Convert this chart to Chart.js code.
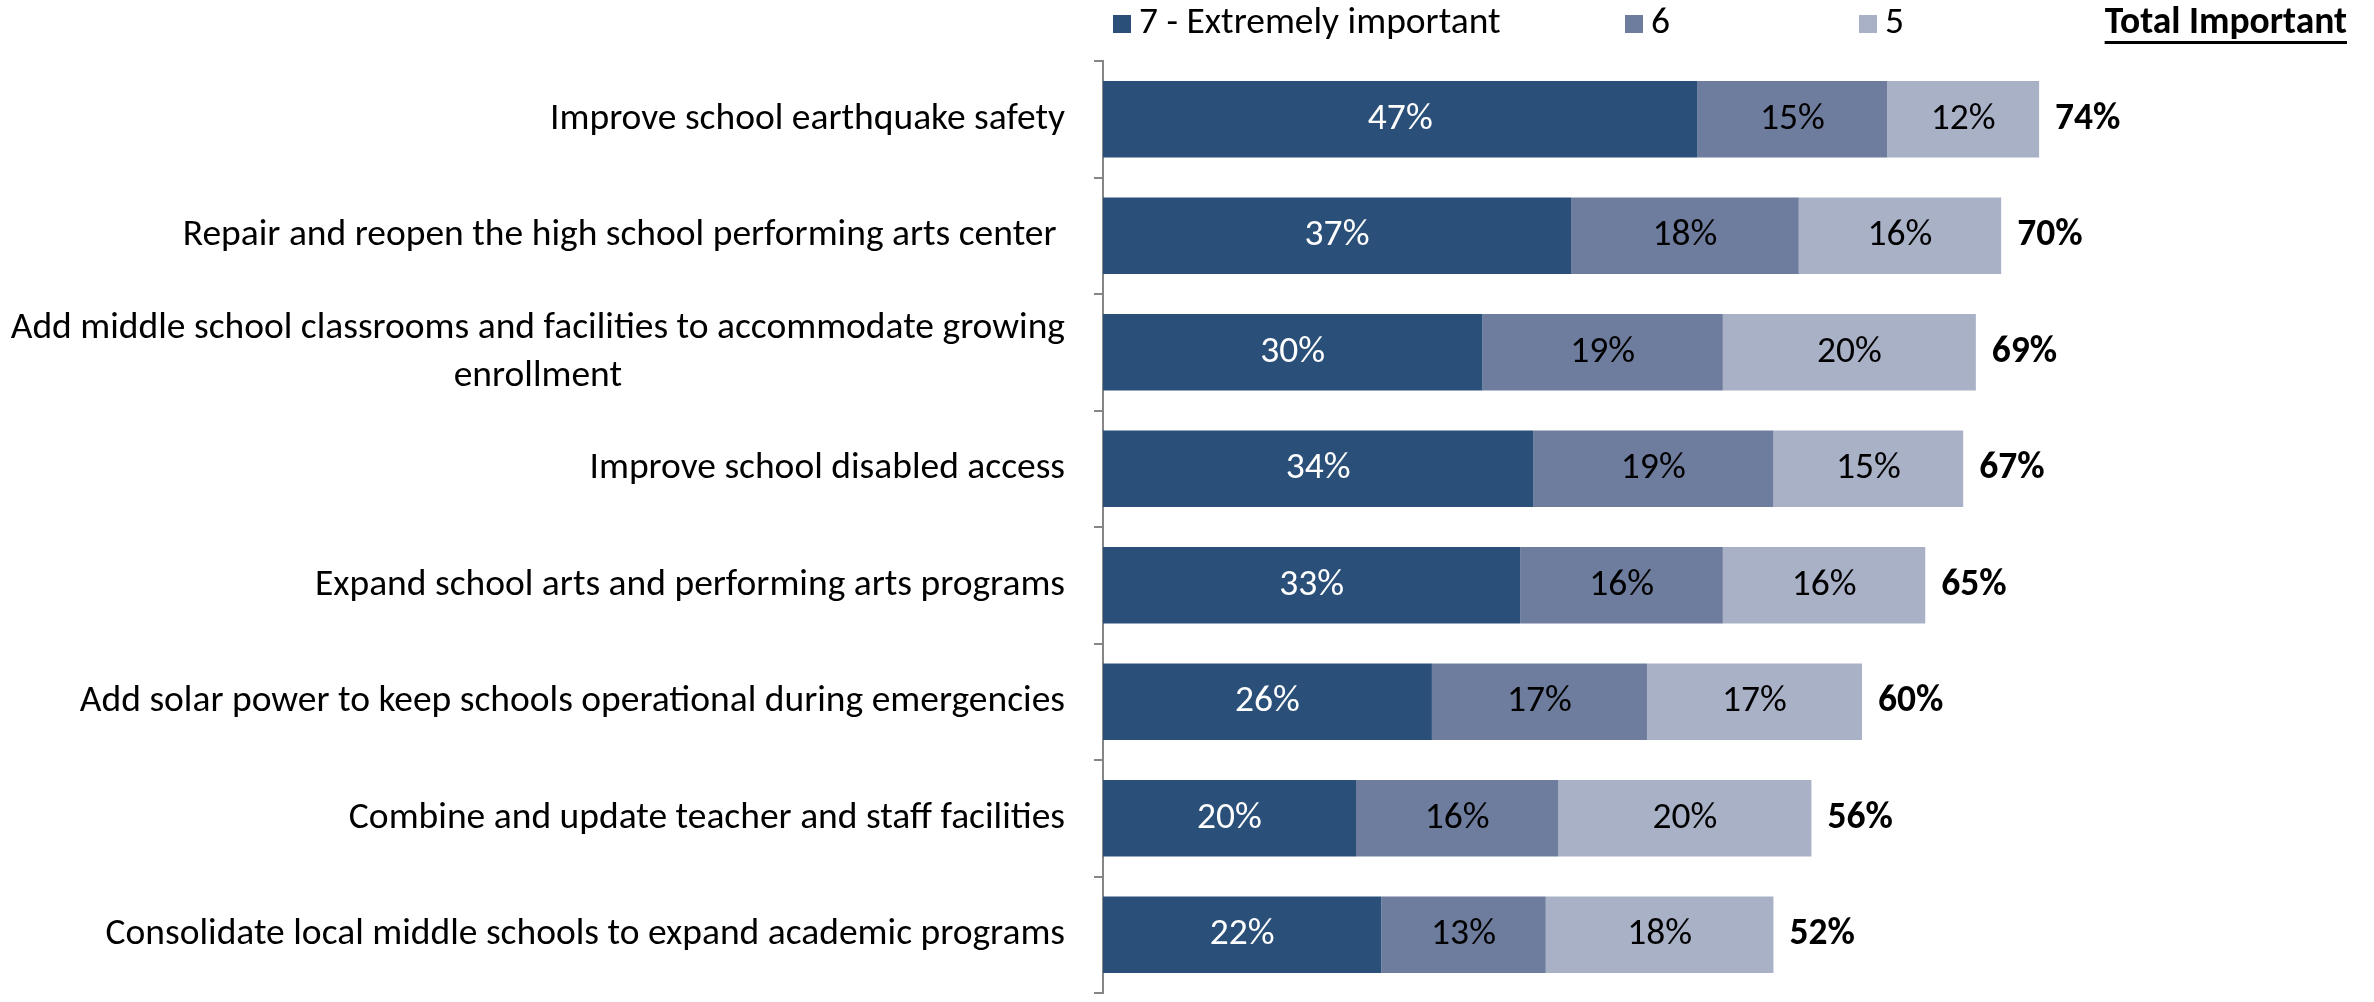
<!DOCTYPE html>
<html>
<head>
<meta charset="utf-8">
<script src="https://cdn.jsdelivr.net/npm/chart.js@4.4.0/dist/chart.umd.min.js"></script>
<style>
  html, body { margin: 0; padding: 0; background: #fff; overflow: hidden; }
</style>
</head>
<body>
<canvas id="chart" width="2374" height="1002"></canvas>
<script>
/* ---- data ---- */
var categories = [
  'Improve school earthquake safety',
  'Repair and reopen the high school performing arts center ',
  ['Add middle school classrooms and facilities to accommodate growing', 'enrollment'],
  'Improve school disabled access',
  'Expand school arts and performing arts programs',
  'Add solar power to keep schools operational during emergencies',
  'Combine and update teacher and staff facilities',
  'Consolidate local middle schools to expand academic programs'
];
var seriesNames = ['7 - Extremely important', '6', '5'];
var extremely = [47, 37, 30, 34, 33, 26, 20, 22];
var six = [15, 18, 19, 19, 16, 17, 16, 13];
var five = [12, 16, 20, 15, 16, 17, 20, 18];
var totals = [74, 70, 69, 67, 65, 60, 56, 52];
var totalLabel = 'Total Important';

var colors = ['#2A4F78', '#6E7C9E', '#A9B1C7'];
var FONT = 'Carlito, Calibri, "Liberation Sans Narrow", "Open Sans", sans-serif';
var FS = 37.5;

/* category labels: right-aligned block, lines centred inside it */
var catLabels = {
  id: 'catLabels',
  afterDraw: function(chart) {
    var ctx = chart.ctx;
    var yScale = chart.scales.y;
    var right = chart.chartArea.left - 38;
    ctx.save();
    ctx.font = FS + 'px ' + FONT;
    ctx.fillStyle = '#000';
    ctx.textBaseline = 'middle';
    ctx.textAlign = 'center';
    categories.forEach(function(c, i) {
      var lines = Array.isArray(c) ? c : [c];
      var yc = yScale.getPixelForValue(i);
      var maxW = 0;
      lines.forEach(function(l) { maxW = Math.max(maxW, ctx.measureText(l).width); });
      lines.forEach(function(l, j) {
        ctx.fillText(l, right - maxW / 2, yc + (j - (lines.length - 1) / 2) * 48);
      });
    });
    ctx.restore();
  }
};

/* values inside segments + bold totals */
var valueLabels = {
  id: 'valueLabels',
  afterDatasetsDraw: function(chart) {
    var ctx = chart.ctx;
    ctx.save();
    ctx.textBaseline = 'middle';
    chart.data.datasets.forEach(function(ds, di) {
      var meta = chart.getDatasetMeta(di);
      ctx.font = FS + 'px ' + FONT;
      ctx.textAlign = 'center';
      ctx.fillStyle = di === 0 ? '#fff' : '#000';
      meta.data.forEach(function(bar, i) {
        ctx.fillText(ds.data[i] + '%', (bar.x + bar.base) / 2, bar.y);
      });
    });
    var last = chart.getDatasetMeta(chart.data.datasets.length - 1);
    ctx.font = 'bold ' + FS + 'px ' + FONT;
    ctx.textAlign = 'left';
    ctx.fillStyle = '#000';
    last.data.forEach(function(bar, i) {
      ctx.fillText(totals[i] + '%', bar.x + 16, bar.y);
    });
    ctx.restore();
  }
};

/* legend row along the top */
var topLegend = {
  id: 'topLegend',
  afterDraw: function(chart) {
    var ctx = chart.ctx;
    var xs = [1113, 1625, 1859];
    var y = 24;
    ctx.save();
    ctx.font = FS + 'px ' + FONT;
    ctx.textBaseline = 'middle';
    ctx.textAlign = 'left';
    chart.data.datasets.forEach(function(ds, i) {
      ctx.fillStyle = ds.backgroundColor;
      ctx.fillRect(xs[i], y - 9, 18, 18);
      ctx.fillStyle = '#000';
      ctx.fillText(ds.label, xs[i] + 26, y);
    });
    ctx.font = 'bold ' + FS + 'px ' + FONT;
    ctx.textAlign = 'right';
    var tr = 2347;
    ctx.fillText(totalLabel, tr, y);
    var w = ctx.measureText(totalLabel).width;
    ctx.fillRect(tr - w, y + 17, w, 3);
    ctx.restore();
  }
};

new Chart(document.getElementById('chart'), {
  type: 'bar',
  data: {
    labels: categories,
    datasets: [
      { label: seriesNames[0], data: extremely, backgroundColor: colors[0] },
      { label: seriesNames[1], data: six, backgroundColor: colors[1] },
      { label: seriesNames[2], data: five, backgroundColor: colors[2] }
    ]
  },
  options: {
    indexAxis: 'y',
    responsive: false,
    animation: false,
    layout: { padding: { top: 61, right: 6, bottom: 0, left: 0 } },
    datasets: { bar: { barPercentage: 1, categoryPercentage: 0.655 } },
    plugins: { legend: { display: false }, tooltip: { enabled: false } },
    scales: {
      x: { stacked: true, display: false, min: 0, max: 100 },
      y: {
        stacked: true,
        grid: { display: true, drawOnChartArea: false, drawTicks: true, tickLength: 9, color: '#868686', lineWidth: 2, offset: true },
        border: { display: true, color: '#868686', width: 2 },
        ticks: { color: 'rgba(0,0,0,0)', font: { size: 10 } },
        afterFit: function(scale) { scale.width = 1103; }
      }
    }
  },
  plugins: [catLabels, valueLabels, topLegend]
});
</script>
</body>
</html>
